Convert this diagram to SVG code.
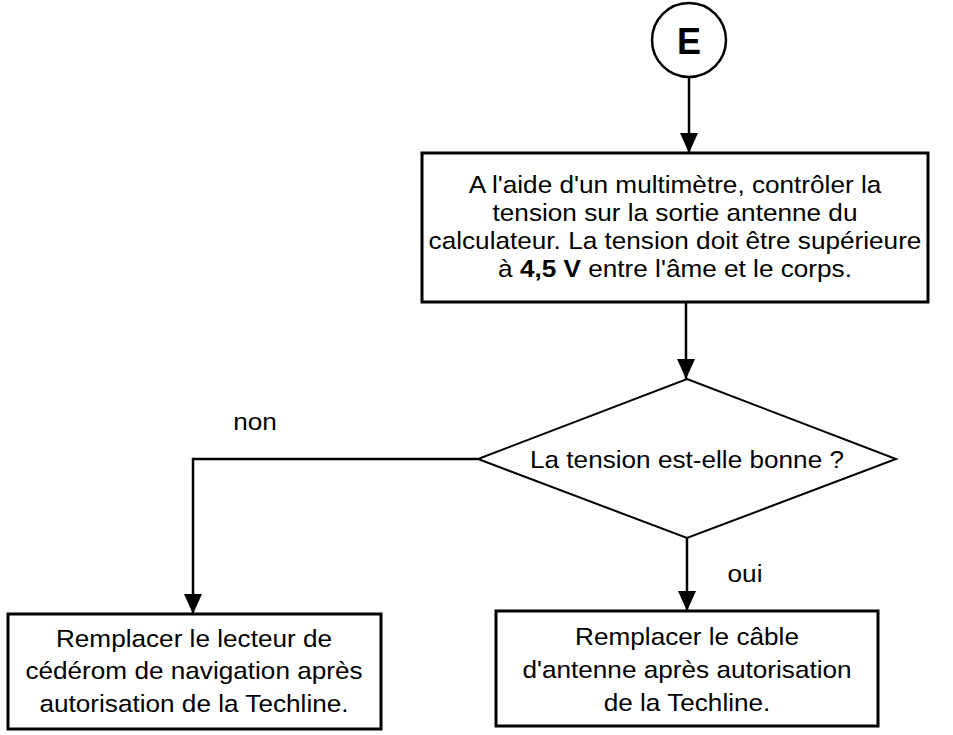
<svg xmlns="http://www.w3.org/2000/svg" width="953" height="735" viewBox="0 0 953 735">
<style>
.box{fill:#fff;stroke:#000;stroke-width:3}
.dia{fill:#fff;stroke:#000;stroke-width:2}
.con{fill:none;stroke:#000;stroke-width:2.5}
.t{font-family:"Liberation Sans",Arial,sans-serif;font-size:24px;fill:#000;text-anchor:middle}
.b{font-weight:bold}
</style>
<defs>
<marker id="arr" markerUnits="userSpaceOnUse" markerWidth="20" markerHeight="18" refX="20" refY="9" orient="auto">
<path d="M0,0 L20,9 L0,18 z" fill="#000"/>
</marker>
</defs>
<g id="connectors">
<line class="con" x1="689" y1="77" x2="689" y2="153" marker-end="url(#arr)"/>
<line class="con" x1="686" y1="302" x2="686" y2="379" marker-end="url(#arr)"/>
<polyline class="con" points="478,459 193,459 193,614" marker-end="url(#arr)"/>
<line class="con" x1="687" y1="538" x2="687" y2="611" marker-end="url(#arr)"/>
<g transform="translate(255 0) scale(1.09 1)"><text class="t" x="0" y="430">non</text></g>
<g transform="translate(745 0) scale(1.09 1)"><text class="t" x="0" y="582">oui</text></g>
</g>
<g id="start">
<circle cx="689" cy="40" r="37" fill="#fff" stroke="#000" stroke-width="2.5"/>
<text x="689" y="54" style="font-family:'Liberation Sans',Arial,sans-serif;font-size:36px;font-weight:bold;text-anchor:middle">E</text>
</g>
<g id="check">
<rect class="box" x="422" y="153" width="506" height="149"/>
<g transform="translate(675 0) scale(1.09 1)">
<text class="t" x="0" y="193">A l'aide d'un multimètre, contrôler la</text>
<text class="t" x="0" y="221">tension sur la sortie antenne du</text>
<text class="t" x="0" y="249">calculateur. La tension doit être supérieure</text>
<text class="t" x="0" y="277">à <tspan class="b">4,5 V</tspan> entre l'âme et le corps.</text>
</g>
</g>
<g id="decision">
<polygon class="dia" points="687,379 896,459 687,538 478,459"/>
<g transform="translate(687 0) scale(1.09 1)">
<text class="t" x="0" y="468">La tension est-elle bonne ?</text>
</g>
</g>
<g id="replace-drive">
<rect class="box" x="8" y="614" width="373" height="115"/>
<g transform="translate(194 0) scale(1.09 1)">
<text class="t" x="0" y="647">Remplacer le lecteur de</text>
<text class="t" x="0" y="679">cédérom de navigation après</text>
<text class="t" x="0" y="712">autorisation de la Techline.</text>
</g>
</g>
<g id="replace-cable">
<rect class="box" x="496" y="611" width="382" height="115"/>
<g transform="translate(687 0) scale(1.09 1)">
<text class="t" x="0" y="645">Remplacer le câble</text>
<text class="t" x="0" y="678">d'antenne après autorisation</text>
<text class="t" x="0" y="711">de la Techline.</text>
</g>
</g>
</svg>
